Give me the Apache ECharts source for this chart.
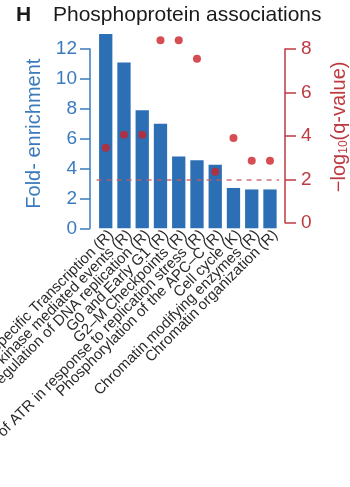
<!DOCTYPE html>
<html>
<head>
<meta charset="utf-8">
<script src="https://cdn.jsdelivr.net/npm/echarts@6/dist/echarts.min.js"></script>
<style>
  html, body { margin: 0; padding: 0; background: #fff; }
  #chart { width: 350px; height: 487px; }
</style>
</head>
<body>
<div id="chart"></div>
<script>
// Pathway terms (R = Reactome, K = KEGG)
const categories = [
  'Gene Specific Transcription (R)',
  'Polo-like kinase mediated events (R)',
  'E2F mediated regulation of DNA replication (R)',
  'G0 and Early G1 (R)',
  'G2\u2013M Checkpoints (R)',
  'Activation of ATR in response to replication stress (R)',
  'Phosphorylation of the APC\u2013C (R)',
  'Cell cycle (K)',
  'Chromatin modifying enzymes (R)',
  'Chromatin organization (R)'
];
// Fold-enrichment (bars, left axis)
const foldEnrichment = [13.0, 11.1, 7.9, 7.0, 4.8, 4.55, 4.25, 2.7, 2.6, 2.6];
// -log10(q-value) (dots, right axis)
const negLogQ = [3.45, 4.05, 4.05, 8.4, 8.4, 7.55, 2.35, 3.9, 2.85, 2.85];
// Significance threshold on the -log10(q) scale
const qThreshold = 2;
// Axis ticks
const leftTicks = { min: 0, max: 12, interval: 2 };
const rightTicks = { min: 0, max: 8, interval: 2 };

const FONT = '"Liberation Sans", Arial, Helvetica, sans-serif';
const BLUE = '#2c6fb5';
const BLUE_AXIS = '#3b7bbd';
const RED = '#cc2229';
const RED_AXIS = '#be3a41';

const chart = echarts.init(document.getElementById('chart'), null, { renderer: 'canvas' });

chart.setOption({
  animation: false,
  textStyle: { fontFamily: FONT },
  title: [
    { text: 'H', left: 11, top: 0, textStyle: { fontFamily: FONT, fontSize: 21, fontWeight: 'bold', color: '#1a1a1a' } },
    { text: 'Phosphoprotein associations', left: 48, top: 0, textStyle: { fontFamily: FONT, fontSize: 21, fontWeight: 'normal', color: '#1a1a1a' } }
  ],
  grid: [
    { left: 96.6, right: 70.9, top: 49, bottom: 258.7, containLabel: false, outerBoundsMode: 'none' },
    { left: 96.6, right: 70.9, top: 49, bottom: 264.3, containLabel: false, outerBoundsMode: 'none' }
  ],
  xAxis: [
    {
      type: 'category', gridIndex: 0, data: categories,
      axisLine: { show: false }, axisTick: { show: false },
      axisLabel: {
        interval: 0, rotate: 45, fontSize: 15, color: '#2a2a2a', margin: -1,
        verticalAlign: 'top', fontFamily: FONT
      }
    },
    {
      type: 'category', gridIndex: 1, data: categories, show: false
    }
  ],
  yAxis: [
    {
      type: 'value', gridIndex: 0, position: 'left', offset: 6.6,
      min: leftTicks.min, max: leftTicks.max, interval: leftTicks.interval,
      name: 'Fold- enrichment', nameLocation: 'middle', nameRotate: 90, nameGap: 40,
      nameTextStyle: { color: BLUE_AXIS, fontSize: 20, fontFamily: FONT, padding: [0, 0, 0, 10] },
      axisLine: { show: true, lineStyle: { color: BLUE_AXIS, width: 1.5 } },
      axisTick: { show: true, length: 10, lineStyle: { color: BLUE_AXIS, width: 1.5 } },
      axisLabel: { color: BLUE_AXIS, fontSize: 19, margin: 13, fontFamily: FONT },
      splitLine: { show: false }
    },
    {
      type: 'value', gridIndex: 1, position: 'right', offset: 5.9,
      min: rightTicks.min, max: rightTicks.max, interval: rightTicks.interval,
      name: '\u2212log{sub|10}(q-value)', nameLocation: 'middle', nameRotate: 90, nameGap: 43,
      nameTextStyle: {
        color: RED_AXIS, fontSize: 20, fontFamily: FONT, padding: [0, 0, 0, 18],
        rich: { sub: { fontSize: 12, color: RED_AXIS, fontFamily: FONT, padding: [10, 0, 0, 0] } }
      },
      axisLine: { show: true, lineStyle: { color: RED_AXIS, width: 1.5 } },
      axisTick: { show: true, length: 11, lineStyle: { color: RED_AXIS, width: 1.5 } },
      axisLabel: { color: RED_AXIS, fontSize: 19, margin: 16, fontFamily: FONT },
      splitLine: { show: false }
    }
  ],
  series: [
    {
      type: 'bar', xAxisIndex: 0, yAxisIndex: 0, data: foldEnrichment,
      barWidth: 13.3, clip: false,
      itemStyle: { color: BLUE }
    },
    {
      type: 'scatter', xAxisIndex: 1, yAxisIndex: 1, data: negLogQ,
      symbolSize: 8, clip: false,
      itemStyle: { color: RED },
      markLine: {
        silent: true, symbol: 'none', label: { show: false },
        lineStyle: { color: '#c65a63', type: [5, 5], width: 1.5, opacity: 0.85 },
        data: [{ yAxis: qThreshold }]
      }
    }
  ]
});
</script>
</body>
</html>
